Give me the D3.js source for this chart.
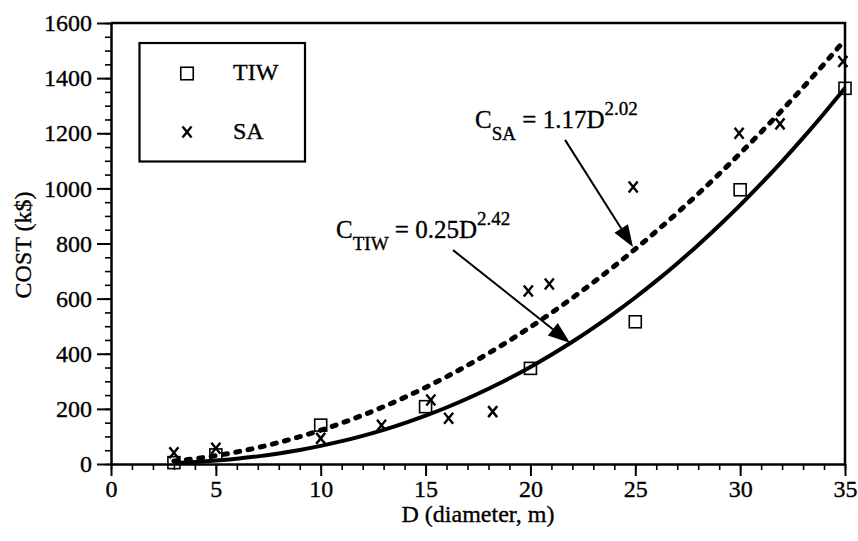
<!DOCTYPE html>
<html>
<head>
<meta charset="utf-8">
<script src="https://cdn.jsdelivr.net/npm/d3@7"></script>
<style>
  html, body { margin: 0; padding: 0; background: #fff; }
  svg { display: block; }
  text { font-family: "Liberation Serif", "Times New Roman", serif; fill: #000; stroke: #000; stroke-width: 0.35px; }
</style>
</head>
<body>
<div id="chart"></div>
<script>
// ---------- data ----------
const xTicks = [0, 5, 10, 15, 20, 25, 30, 35];
const yTicks = [0, 200, 400, 600, 800, 1000, 1200, 1400, 1600];

// TIW observations (squares)
const tiwD    = [3, 5, 10, 15, 20, 25, 30, 35];
const tiwCost = [5, 33, 141, 208, 347, 516, 995, 1363];

// SA observations (x marks)
const saD    = [3, 5, 10, 12.9, 15.25, 16.1, 18.2, 19.9, 20.9, 24.9, 29.95, 31.9, 34.9];
const saCost = [41, 57, 93, 141, 232, 166, 190, 628, 653, 1005, 1200, 1234, 1460];

// fitted curves read along their length
const fitD = [3,4,5,6,7,8,9,10,11,12,13,14,15,16,17,18,19,20,21,22,23,24,25,26,27,28,29,30,31,32,33,34,35];
const fitSA = [10.8,19.3,30.2,43.7,59.6,78.1,99.0,122.5,148.5,177.1,208.1,241.7,277.9,316.6,357.8,401.6,448.0,496.9,548.4,602.4,659.0,718.1,779.9,844.2,911.0,980.5,1052.5,1127.1,1204.3,1284.0,1366.3,1451.3,1538.9];
const fitTIW = [3.6,7.2,12.3,19.1,27.7,38.3,51.0,65.8,82.8,102.2,124.0,148.4,175.4,205.0,237.5,272.8,310.9,352.1,396.2,443.4,493.8,547.4,604.2,664.4,727.8,794.9,865.4,939.4,1017.0,1098.1,1183.0,1271.8,1363.9];

const seriesNames = ["TIW", "SA"];
const xLabel = "D (diameter, m)";
const yLabel = "COST (k$)";

// annotation anchors (data space)
const tiwLabelAt = [10.73, 820];
const saLabelAt  = [17.36, 1219];
const tiwArrow = [[16.31, 776], [21.89, 439]];
const saArrow  = [[21.65, 1176], [24.89, 787]];

// ---------- layout ----------
const W = 858, H = 541;
const M = { left: 111, right: 13, top: 23, bottom: 77 };
const FONT = "Liberation Serif";

const svg = d3.select("#chart").append("svg").attr("width", W).attr("height", H);

const x = d3.scaleLinear().domain([0, 35]).range([M.left, W - M.right]);
const y = d3.scaleLinear().domain([0, 1600]).range([H - M.bottom, M.top]);

// frame (top/right)
svg.append("path")
  .attr("d", `M${x(0)},${y(1600)}H${x(35)}V${y(0)}`)
  .attr("fill", "none").attr("stroke", "#000").attr("stroke-width", 2.5);

// minor ticks
const xAxisMinor = d3.axisBottom(x).tickValues(d3.range(0, 36, 1)).tickSize(6).tickFormat("");
const yAxisMinor = d3.axisLeft(y).tickValues(d3.range(0, 1601, 50)).tickSize(6).tickFormat("");
svg.append("g").attr("transform", `translate(0,${y(0)})`).call(xAxisMinor)
  .call(g => g.select(".domain").remove())
  .call(g => g.selectAll("line").attr("stroke-width", 1.6));
svg.append("g").attr("transform", `translate(${x(0)},0)`).call(yAxisMinor)
  .call(g => g.select(".domain").remove())
  .call(g => g.selectAll("line").attr("stroke-width", 1.6));

// major axes
const xAxis = d3.axisBottom(x).tickValues(xTicks).tickFormat(d3.format("d")).tickSize(12).tickPadding(4).tickSizeOuter(0);
const yAxis = d3.axisLeft(y).tickValues(yTicks).tickFormat(d3.format("d")).tickSize(14).tickPadding(5).tickSizeOuter(0);
function styleAxis(g) {
  g.attr("font-family", FONT).attr("font-size", 24);
  g.select(".domain").attr("stroke-width", 2.5);
  g.selectAll("line").attr("stroke-width", 2);
  g.selectAll("text").attr("font-size", 24).style("font-family", FONT).attr("fill", "#000");
}
svg.append("g").attr("transform", `translate(0,${y(0)})`).call(xAxis).call(styleAxis);
svg.append("g").attr("transform", `translate(${x(0)},0)`).call(yAxis).call(styleAxis);

// axis titles
svg.append("text").attr("x", (x(0) + x(35)) / 2).attr("y", 522)
  .attr("text-anchor", "middle").attr("font-size", 24).text(xLabel);
svg.append("text").attr("transform", `translate(31,245) rotate(-90)`)
  .attr("text-anchor", "middle").attr("font-size", 24).text(yLabel);

// fitted curves
const line = d3.line().x(d => x(d[0])).y(d => y(d[1])).curve(d3.curveMonotoneX);
svg.append("path").datum(fitD.map((d, i) => [d, fitTIW[i]]))
  .attr("d", line).attr("fill", "none").attr("stroke", "#000").attr("stroke-width", 4);
svg.append("path").datum(fitD.map((d, i) => [d, fitSA[i]]))
  .attr("d", line).attr("fill", "none").attr("stroke", "#000").attr("stroke-width", 5)
  .attr("stroke-dasharray", "4,8.5").attr("stroke-linecap", "round");

// markers
function square(g, cx, cy, s) {
  g.append("rect").attr("x", cx - s / 2).attr("y", cy - s / 2).attr("width", s).attr("height", s)
    .attr("fill", "none").attr("stroke", "#000").attr("stroke-width", 1.6);
}
function cross(g, cx, cy, w, h) {
  g.append("path").attr("d", `M${cx - w / 2},${cy - h / 2}L${cx + w / 2},${cy + h / 2}M${cx + w / 2},${cy - h / 2}L${cx - w / 2},${cy + h / 2}`)
    .attr("stroke", "#000").attr("stroke-width", 2.4).attr("fill", "none");
}
const gm = svg.append("g");
tiwD.forEach((d, i) => square(gm, x(d), y(tiwCost[i]), 12));
saD.forEach((d, i) => cross(gm, x(d), y(saCost[i]), 9, 11));

// legend
const lg = svg.append("g");
lg.append("rect").attr("x", 139.5).attr("y", 43).attr("width", 165.5).attr("height", 118.5)
  .attr("fill", "#fff").attr("stroke", "#000").attr("stroke-width", 2.2);
square(lg, 187, 73.5, 12.5);
cross(lg, 187, 132, 9, 11);
lg.append("text").attr("x", 233).attr("y", 80).attr("font-size", 24).text(seriesNames[0]);
lg.append("text").attr("x", 233).attr("y", 138.5).attr("font-size", 24).text(seriesNames[1]);

// annotations
function eqLabel(pos, sub, body, sup) {
  const t = svg.append("text").attr("x", x(pos[0])).attr("y", y(pos[1])).attr("font-size", 25);
  t.append("tspan").text("C");
  t.append("tspan").attr("font-size", 19).attr("dy", 12).text(sub);
  t.append("tspan").attr("dy", -12).text(body);
  t.append("tspan").attr("font-size", 19).attr("dy", -13).text(sup);
}
eqLabel(tiwLabelAt, "TIW", " = 0.25D", "2.42");
eqLabel(saLabelAt, "SA", " = 1.17D", "2.02");

function arrow(a) {
  const x0 = x(a[0][0]), y0 = y(a[0][1]), x1 = x(a[1][0]), y1 = y(a[1][1]);
  const ang = Math.atan2(y1 - y0, x1 - x0);
  const L = 22, Wd = 8;
  const bx = x1 - L * Math.cos(ang), by = y1 - L * Math.sin(ang);
  svg.append("line").attr("x1", x0).attr("y1", y0).attr("x2", bx).attr("y2", by)
    .attr("stroke", "#000").attr("stroke-width", 2);
  const px = -Math.sin(ang) * Wd, py = Math.cos(ang) * Wd;
  svg.append("path").attr("d", `M${x1},${y1}L${bx + px},${by + py}L${bx - px},${by - py}Z`).attr("fill", "#000");
}
arrow(tiwArrow);
arrow(saArrow);
</script>
</body>
</html>
